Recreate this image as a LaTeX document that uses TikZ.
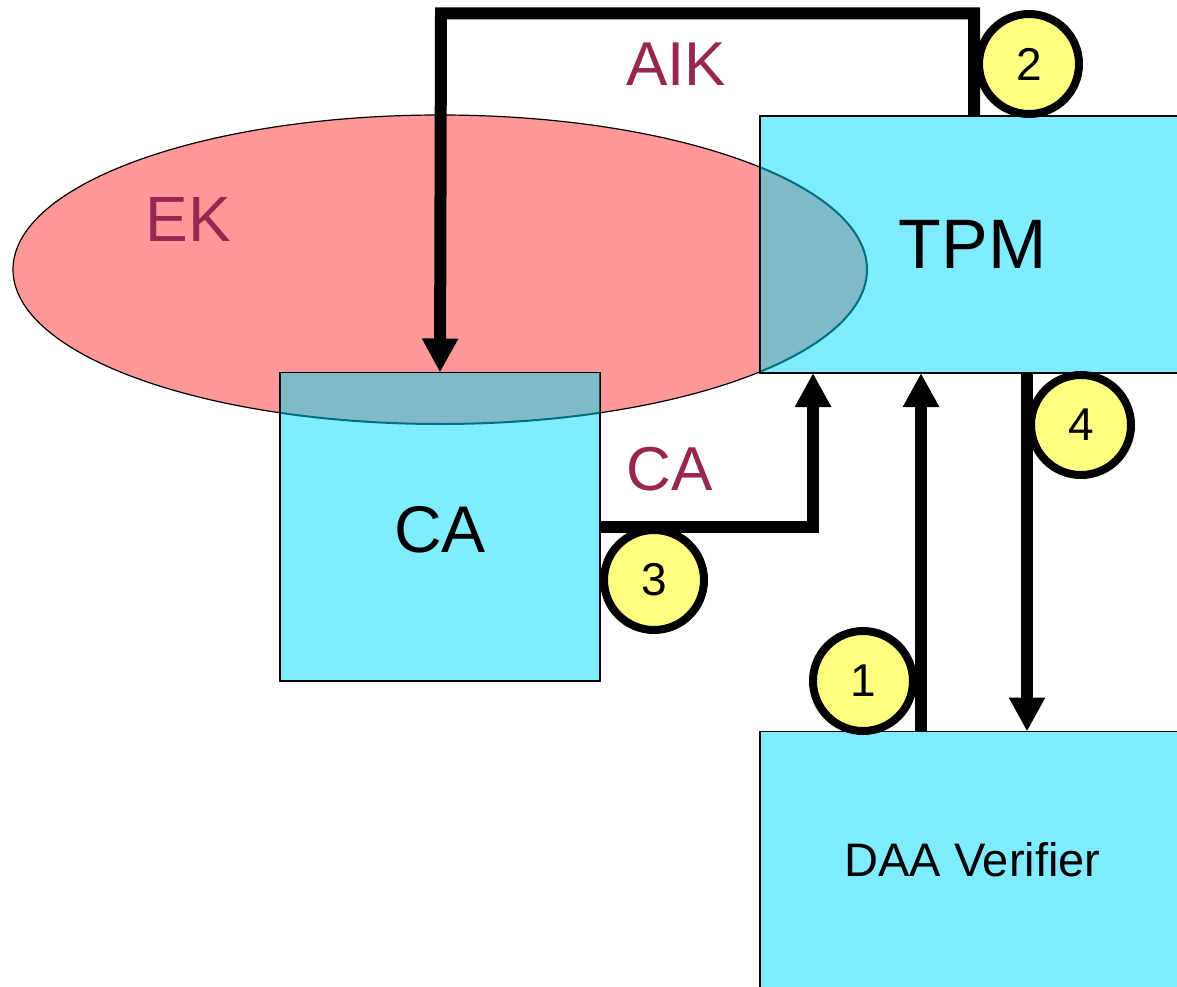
\documentclass[tikz,border=0pt]{standalone}
\usepackage{fontspec}
\setmainfont{Liberation Sans}
\usetikzlibrary{arrows.meta}
\definecolor{boxcyan}{RGB}{128,236,255}
\definecolor{ekpink}{RGB}{255,153,153}
\definecolor{overlapc}{RGB}{128,186,200}
\definecolor{tealline}{RGB}{0,112,127}
\definecolor{labmaroon}{RGB}{153,38,80}
\definecolor{numyellow}{RGB}{255,255,128}
\begin{document}
\begin{tikzpicture}[x=1pt,y=-1pt,
  box/.style={rectangle,fill=boxcyan,draw=black,line width=1.5pt,inner sep=0pt,outer sep=0pt},
  thickarrow/.style={line width=12pt,line join=miter,-{Triangle[width=34pt,length=34pt]}},
  num/.style={circle,fill=numyellow,draw=black,line width=8pt,minimum size=100pt,inner sep=0pt,font=\fontsize{46}{52}\selectfont},
  lab/.style={text=labmaroon,anchor=base,inner sep=0pt,font=\fontsize{64}{70}\selectfont}
]
\useasboundingbox (0,0) rectangle (1177,987);
\fill[white] (0,0) rectangle (1177,987);

% EK ellipse
\coordinate (ekc) at (440,269.5);
\draw[fill=ekpink,draw=black,line width=1.2pt] (ekc) ellipse [x radius=427, y radius=154.5];

% boxes
\node[box,minimum width=425pt,minimum height=257pt] (tpm) at (972.5,244.5) {};
\node[box,minimum width=320pt,minimum height=308.5pt] (ca) at (440,526.75) {};
\node[box,minimum width=425pt,minimum height=257pt,font=\fontsize{47}{54}\selectfont] (daa) at (972.5,860) {DAA Verifier};

% overlaps of ellipse with boxes
\begin{scope}
\clip ([shift={(0.75,0.75)}]tpm.north west) rectangle ([shift={(-0.75,-0.75)}]tpm.south east);
\fill[overlapc] (ekc) ellipse [x radius=427, y radius=154.5];
\draw[tealline,line width=2pt] (ekc) ellipse [x radius=427, y radius=154.5];
\end{scope}
\begin{scope}
\clip ([shift={(0.75,0.75)}]ca.north west) rectangle ([shift={(-0.75,-0.75)}]ca.south east);
\fill[overlapc] (ekc) ellipse [x radius=427, y radius=154.5];
\draw[tealline,line width=2pt] (ekc) ellipse [x radius=427, y radius=154.5];
\end{scope}
\node[font=\fontsize{70}{80}\selectfont,inner sep=0pt] (tpmtext) at (tpm.center) {TPM};
\node[font=\fontsize{66}{76}\selectfont,inner sep=0pt] (catext) at ([yshift=-3pt]ca.center) {CA};

% labels
\node[lab] (eklab) at (188,241) {EK};
\node[lab,font=\fontsize{62}{70}\selectfont] (aiklab) at (676,86) {AIK};
\node[lab,font=\fontsize{62}{70}\selectfont] (calab) at (670,490) {CA};

% connectors
\coordinate (aikcorner) at (441,13.5);
\draw[thickarrow] ([xshift=214pt]tpm.north west) |- (aikcorner) -- (ca.north);
\draw[thickarrow] (ca.east) -| ([xshift=53pt]tpm.south west);
\draw[thickarrow] ([xshift=161pt]daa.north west) -- ([xshift=161pt]tpm.south west);
\draw[thickarrow] ([xshift=267pt]tpm.south west) -- ([xshift=267pt]daa.north west);

% numbered circles
\node[num] (n2) at (1029,64) {2};
\node[num] (n3) at (654,580) {3};
\node[num] (n4) at (1081,425) {4};
\node[num] (n1) at (863,681) {1};
\end{tikzpicture}
\end{document}
